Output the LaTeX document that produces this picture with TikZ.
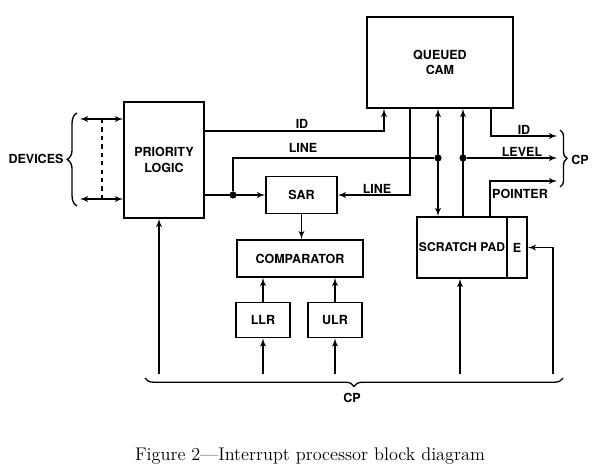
\documentclass[tikz,border=0pt]{standalone}
\usepackage{fontspec}
\setsansfont{TeX Gyre Heros}
\usetikzlibrary{arrows, calc, decorations.pathreplacing}
\tikzset{
    block/.style={draw, line width=1.4pt, inner sep=0pt, align=center, font=\sffamily\bfseries\fontsize{8.9}{10.8}\selectfont},
    tag/.style={inner sep=0pt, font=\sffamily\bfseries\fontsize{8.9}{10.8}\selectfont},
    wire/.style={line width=0.95pt},
    junction/.style={circle, fill, inner sep=0pt, minimum size=0.18cm},
    bracket/.style={decorate, decoration={brace, amplitude=#1}, line width=0.95pt},
}
\newcommand{\block}[5]{
    \node[block, minimum width=#3, minimum height=#4] (#1) at (#2) {#5};
}
\newcommand{\signal}[3]{
    \node[tag] (#1) at (#2) {#3};
}
\newcommand{\junction}[2]{
    \node[junction] (#1) at (#2) {};
}
\begin{document}
\begin{tikzpicture}[x=0.25cm, y=0.25cm, >=latex', wire]
    \useasboundingbox (0, 0) rectangle (60.1, 47.4);
    \block{pl}{16.4, 31.4}{2cm}{2.9cm}{PRIORITY\\LOGIC}
    \block{cam}{44, 41.15}{3.65cm}{2.275cm}{QUEUED\\CAM}
    \block{sar}{30.15, 27.9}{1.775cm}{0.925cm}{SAR}
    \block{comp}{30, 21.55}{3.15cm}{0.925cm}{COMPARATOR}
    \block{llr}{26.3, 15.4}{1.35cm}{0.875cm}{LLR}
    \block{ulr}{33.5, 15.4}{1.35cm}{0.875cm}{ULR}
    \block{sp}{46.2, 22.65}{2.25cm}{1.525cm}{\fontsize{8.6}{10.5}\selectfont SCRATCH PAD}
    \block{spe}{51.7, 22.65}{0.5cm}{1.525cm}{E}
    \junction{j1}{23.3, 27.9}
    \junction{j2}{43.8, 31.6}
    \junction{j3}{46.3, 31.6}
    \signal{devices}{3.6, 31.5}{DEVICES}
    \signal{idl}{30.2, 35.0}{ID}
    \signal{linel}{30.3, 32.6}{LINE}
    \signal{linesar}{37.7, 28.5}{LINE}
    \signal{idr}{52.4, 34.4}{ID}
    \signal{level}{52.2, 32.2}{LEVEL}
    \signal{pointer}{52.0, 28.0}{POINTER}
    \signal{cpr}{58.0, 31.4}{CP}
    \signal{cpb}{35.2, 7.6}{CP}
    \node[font=\fontsize{13}{15}\selectfont] (caption) at (31.0, 1.8) {Figure 2---Interrupt processor block diagram};
    \coordinate (dtop) at (8, 35.5);
    \coordinate (dbot) at (8, 27.5);
    \coordinate (dasht) at (10.2, 35.5);
    \coordinate (dashb) at (10.2, 27.5);
    \coordinate (idbend) at (38.4, 34.3);
    \coordinate (linex) at (41.0, 0);
    \coordinate (idcorner) at (49.1, 33.8);
    \coordinate (idend) at (55.7, 33.8);
    \coordinate (levelend) at (55.7, 31.6);
    \coordinate (ptrx) at (49.0, 0);
    \coordinate (ptrend) at (55.7, 29.3);
    \coordinate (plin) at (15.9, 10);
    \coordinate (llrin) at (26.3, 10);
    \coordinate (ulrin) at (33.5, 10);
    \coordinate (spin) at (46.0, 10);
    \coordinate (ein) at (55.3, 10);
    \draw[<->] (dtop) -- (pl.west |- dtop);
    \draw[<->] (dbot) -- (pl.west |- dbot);
    \draw[dashed] (dasht) -- (dashb);
    \draw[->] (pl.east |- idbend) -| (cam.south -| idbend);
    \draw[->] (pl.east |- sar) -- (sar.west);
    \draw (j1) |- (j2);
    \draw[->] (cam.south -| linex) |- (sar.east);
    \draw[<->] (cam.south -| j2) -- (sp.north -| j2);
    \draw[->] (sp.north -| j3) -- (cam.south -| j3);
    \draw[->] (j3) -- (levelend);
    \draw[->] (cam.south -| idcorner) |- (idend);
    \draw[->] (sp.north -| ptrx) |- (ptrend);
    \draw[->] (sar.south) -- (comp.north -| sar.south);
    \draw[->] (llr.north) -- (comp.south -| llr.north);
    \draw[->] (ulr.north) -- (comp.south -| ulr.north);
    \draw[->] (plin) -- (pl.south -| plin);
    \draw[->] (llrin) -- (llr.south);
    \draw[->] (ulrin) -- (ulr.south);
    \draw[->] (spin) -- (sp.south -| spin);
    \draw[->] (ein) |- (spe.east);
    \draw[bracket=7pt] (7.7, 26.8) -- (7.7, 36.1);
    \draw[bracket=5pt] (56.0, 34.4) -- (56.0, 28.7);
    \draw[bracket=6pt] (56.3, 9.6) -- (14.5, 9.6);
\end{tikzpicture}
\end{document}
